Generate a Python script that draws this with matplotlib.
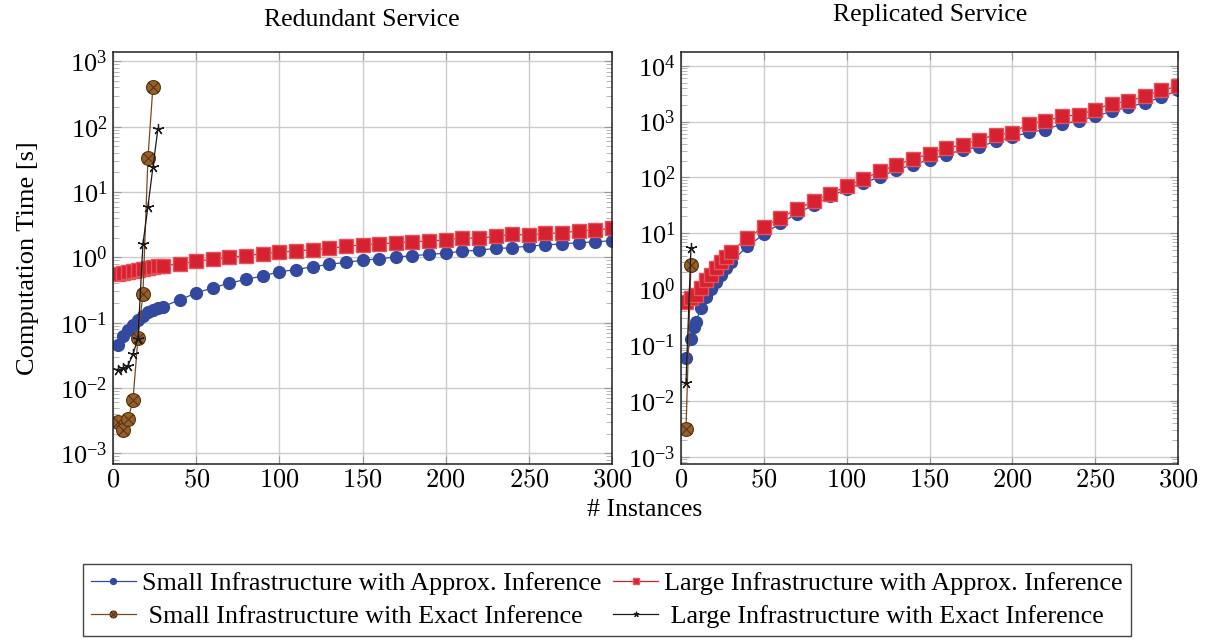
import matplotlib
matplotlib.use("Agg")
import matplotlib.pyplot as plt
import numpy as np
from matplotlib.path import Path
from matplotlib.ticker import LogLocator, NullFormatter, FixedLocator

plt.rcParams['font.family'] = ['Liberation Serif', 'DejaVu Serif']
plt.rcParams['mathtext.fontset'] = 'cm'

# ---- data: redundant service (left) ----
x_approx = [3, 6, 9, 12, 15, 18, 21, 24, 27, 30] + list(range(40, 301, 10))
red_small_approx = [0.045, 0.062, 0.077, 0.092, 0.11, 0.128, 0.144, 0.156, 0.166, 0.175,
                    0.224, 0.284, 0.342, 0.404, 0.46, 0.52, 0.60, 0.65, 0.72, 0.78, 0.84, 0.90, 0.95, 1.01,
                    1.06, 1.11, 1.16, 1.24, 1.29, 1.37, 1.40, 1.49, 1.54, 1.62, 1.67, 1.73, 1.80]
red_large_approx = [0.56, 0.58, 0.60, 0.62, 0.65, 0.67, 0.69, 0.71, 0.73, 0.75,
                    0.79, 0.87, 0.94, 1.0, 1.05, 1.14, 1.19, 1.26, 1.31, 1.37, 1.47, 1.56, 1.61, 1.67,
                    1.73, 1.78, 1.84, 2.0, 1.95, 2.10, 2.25, 2.19, 2.33, 2.36, 2.55, 2.62, 2.78]
x_red_small_exact = [3, 6, 9, 12, 15, 18, 21, 24]
red_small_exact = [0.0030, 0.0023, 0.0033, 0.0065, 0.058, 0.275, 32.9, 411]
x_red_large_exact = [3, 6, 9, 12, 15, 18, 21, 24, 27]
red_large_exact = [0.019, 0.020, 0.022, 0.033, 0.057, 1.6, 6.0, 24, 93]

# ---- data: replicated service (right) ----
x_rep_small_approx = [3, 6, 8, 9, 12, 15, 18, 21, 24, 27, 30] + list(range(40, 301, 10))
rep_small_approx = [0.058, 0.128, 0.208, 0.263, 0.456, 0.72, 1.0, 1.37, 1.80, 2.38, 3.05,
                    5.8, 9.6, 15.2, 22.4, 32.4, 45.7, 62, 79.5, 101.6, 137, 169, 207, 255, 313,
                    351, 442, 530, 640, 716, 906, 1026, 1239, 1524, 1828, 2153, 2761, 3622]
x_rep_large_approx = [3, 6, 9, 12, 15, 18, 21, 24, 27, 30] + list(range(40, 301, 10))
rep_large_approx = [0.59, 0.70, 0.80, 1.06, 1.43, 1.80, 2.38, 3.0, 3.8, 4.7,
                    8.2, 13.0, 18.7, 27.2, 37.2, 51, 69, 93.5, 128, 167, 214, 262, 337, 380,
                    474, 582, 625, 916, 1009, 1239, 1312, 1634, 2094, 2301, 2831, 3622, 4276]
x_rep_exact = [3, 6]
rep_small_exact = [0.0031, 2.72]
rep_large_exact = [0.0206, 5.4]

labels = ["Small Infrastructure with Approx. Inference",
          "Large Infrastructure with Approx. Inference",
          " Small Infrastructure with Exact Inference",
          " Large Infrastructure with Exact Inference"]

c_blue = '#3349a0'
c_red = '#d62130'
c_brown = '#94602c'
c_black = '#1a1a1a'

# circle with a cross inside (otimes)
otimes = Path.make_compound_path(
    Path.unit_circle(),
    Path([[-0.7, -0.7], [0.7, 0.7]], [Path.MOVETO, Path.LINETO]),
    Path([[-0.7, 0.7], [0.7, -0.7]], [Path.MOVETO, Path.LINETO]))
star = (5, 2, 0)

fig = plt.figure(figsize=(12.05, 6.39), dpi=100)
ax1 = fig.add_axes([113 / 1205, 1 - 464 / 639, 499 / 1205, 412 / 639])
ax2 = fig.add_axes([681 / 1205, 1 - 464 / 639, 497 / 1205, 412 / 639])


def draw(ax, xs1, ys1, xs2, ys2, xs3, ys3, xs4, ys4):
    h1, = ax.plot(xs1, ys1, '-', color=c_blue, lw=0.9, marker='o', ms=8.5,
                  mfc=c_blue, mec=c_blue)
    h2, = ax.plot(xs2, ys2, '-', color=c_red, lw=0.9, marker='s', ms=9.5,
                  mfc=c_red, mec='#e8505a')
    h3, = ax.plot(xs3, ys3, '-', color='#7a4a1e', lw=0.9, marker=otimes, ms=10,
                  mfc=c_brown, mec='#5a3510', mew=0.8)
    h4, = ax.plot(xs4, ys4, '-', color=c_black, lw=0.9, marker=star, ms=8,
                  mec=c_black, mew=0.9)
    return [h1, h2, h3, h4]


handles = draw(ax1, x_approx, red_small_approx, x_approx, red_large_approx,
               x_red_small_exact, red_small_exact, x_red_large_exact, red_large_exact)
draw(ax2, x_rep_small_approx, rep_small_approx, x_rep_large_approx, rep_large_approx,
     x_rep_exact, rep_small_exact, x_rep_exact, rep_large_exact)

for ax, lo, hi in [(ax1, -3.164, 3.144), (ax2, -3.13, 4.245)]:
    ax.set_yscale('log')
    ax.set_ylim(10 ** lo, 10 ** hi)
    ax.set_xlim(0, 300)
    ax.xaxis.set_major_locator(FixedLocator([0, 50, 100, 150, 200, 250, 300]))
    ax.set_xticklabels([f'${v}$' for v in [0, 50, 100, 150, 200, 250, 300]])
    ax.yaxis.set_major_locator(LogLocator(base=10, numticks=20))
    ax.yaxis.set_minor_locator(LogLocator(base=10, subs=np.arange(2, 10), numticks=20))
    ax.yaxis.set_minor_formatter(NullFormatter())
    ax.grid(True, which='major', color='#cccccc', lw=1.0)
    ax.set_axisbelow(True)
    ax.tick_params(which='both', direction='in', top=True, right=True,
                   labelsize=19, color='#999999')
    ax.tick_params(which='major', length=6, pad=4)
    ax.tick_params(which='minor', length=4, color='#aaaaaa')
    for sp in ax.spines.values():
        sp.set_linewidth(1.1)
        sp.set_color('#222222')

ax1.set_ylabel('Computation Time [s]', fontsize=19, labelpad=15)

fig.text(362 / 1205, 1 - 20 / 639, 'Redundant Service', fontsize=18.5, ha='center', va='center')
fig.text(930 / 1205, 1 - 15 / 639, 'Replicated Service', fontsize=18.5, ha='center', va='center')
fig.text(645 / 1205, 1 - 510 / 639, '# Instances', fontsize=18.5, ha='center', va='center')

order = [0, 2, 1, 3]
leg = fig.legend([handles[i] for i in order], [labels[i] for i in order],
                 loc='center', bbox_to_anchor=(607 / 1205, 1 - 600 / 639), ncol=2,
                 fontsize=18.8, fancybox=False, edgecolor='#444444', framealpha=1,
                 markerscale=0.5, handlelength=1.7, handletextpad=0.25,
                 columnspacing=0.45, labelspacing=0.35, borderpad=0.3)
leg.get_frame().set_linewidth(1.0)

fig.savefig('out.png', dpi=100)
